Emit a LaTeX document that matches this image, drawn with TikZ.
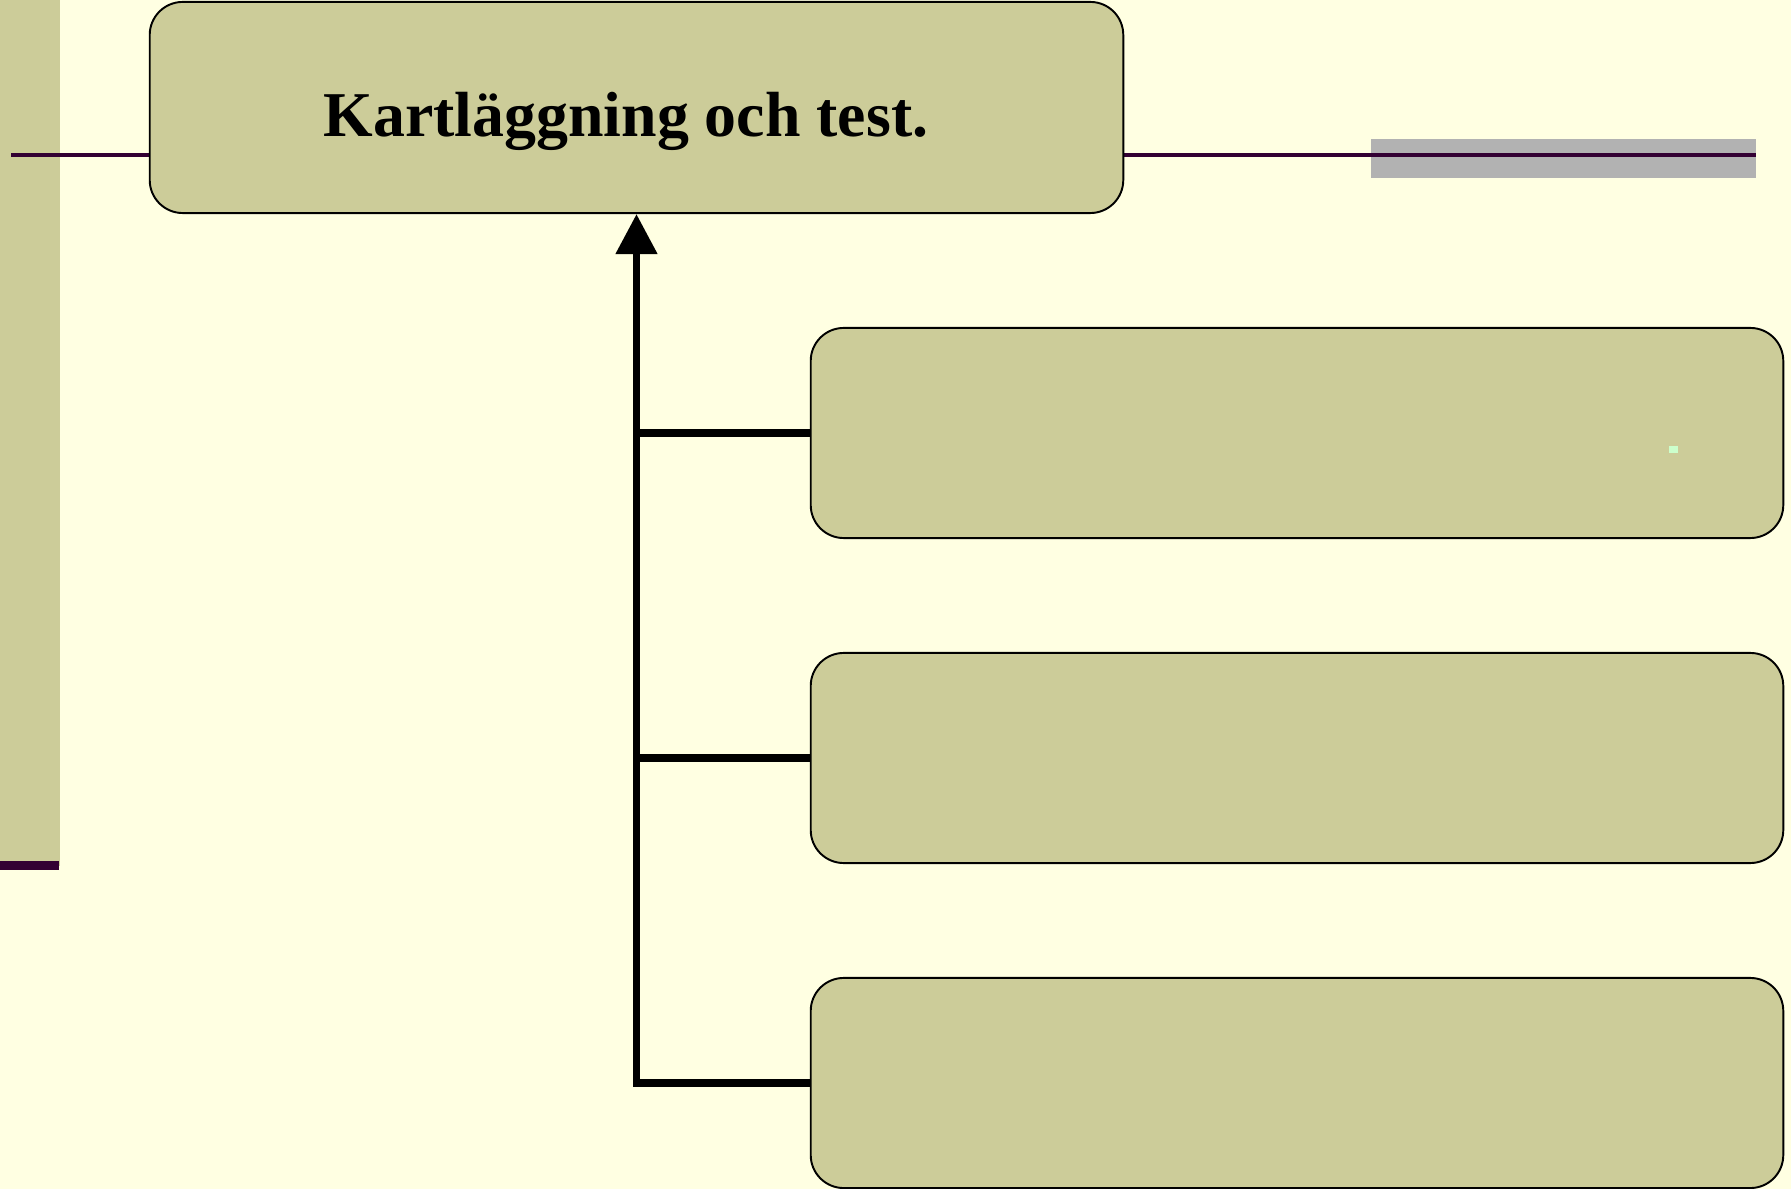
\documentclass[tikz,border=0pt]{standalone}
\usepackage{fontspec}
\setmainfont{Liberation Serif}
\usetikzlibrary{arrows.meta}
\definecolor{bgyellow}{RGB}{255,255,226}
\definecolor{olivebox}{RGB}{204,204,153}
\definecolor{plumline}{RGB}{51,0,51}
\definecolor{bargray}{RGB}{178,178,178}
\definecolor{dotgreen}{RGB}{204,255,204}
\tikzset{
  stepbox/.style={draw=black, line width=0.55pt, fill=olivebox,
    rounded corners=0.33cm, inner sep=0pt, minimum width=9.72cm, minimum height=2.1cm},
  link/.style={line width=2.2pt, black},
  rule/.style={plumline, line width=1.1pt}
}
\begin{document}
\begin{tikzpicture}[x=0.01cm,y=-0.01cm]
    \useasboundingbox (0,0) rectangle (1791,1189);
    \fill[bgyellow] (0,0) rectangle (1791,1189);
    % side bar and header rules
    \fill[olivebox] (0,0) rectangle (60,866);
    \fill[plumline] (0,861) rectangle (59,870);
    \fill[bargray] (1371,139) rectangle (1756,178);
    \draw[rule] (11,155) -- (1756,155);
    % boxes
    \node[stepbox, minimum width=9.73cm, minimum height=2.11cm] (title) at (636.5,107.5) {};
    \node[font=\fontsize{18.15}{22}\selectfont\bfseries, anchor=base] (titletext) at (626,137) {Kartläggning och test.};
    \node[stepbox] (b1) at (1297,433) {};
    \node[stepbox] (b2) at (1297,758) {};
    \node[stepbox] (b3) at (1297,1083) {};
    \fill[dotgreen] (1669,446) rectangle (1678,453);
    % connectors
    \draw[link, -{Triangle[width=0.4cm, length=0.4cm]}] (b3.west) -| (title.south);
    \draw[link] (b1.west) -- (b1.west -| title.south);
    \draw[link] (b2.west) -- (b2.west -| title.south);
\end{tikzpicture}
\end{document}
